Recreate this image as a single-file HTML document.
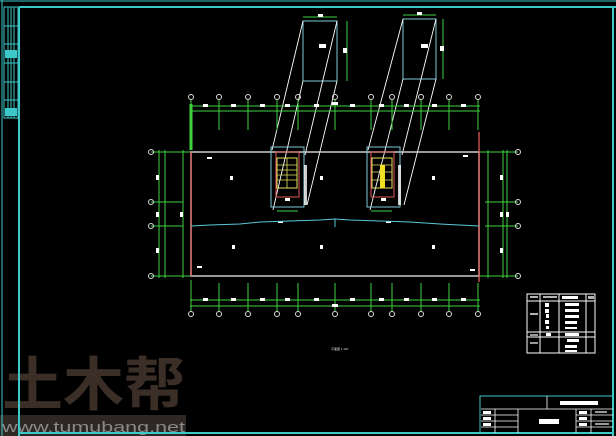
<!DOCTYPE html>
<html><head><style>
html,body{margin:0;padding:0;background:#000;width:616px;height:436px;overflow:hidden}
svg{display:block}
text{font-family:"Liberation Sans","Noto Sans CJK SC",sans-serif}
</style></head><body>
<svg width="616" height="436" viewBox="0 0 616 436" xmlns="http://www.w3.org/2000/svg">
<rect width="616" height="436" fill="#000"/>
<!-- watermark (behind frame) -->
<text x="2" y="405" font-size="58" font-weight="bold" fill="#3a2e26" font-family="'Noto Sans CJK SC',sans-serif" textLength="183" lengthAdjust="spacingAndGlyphs">土木帮</text>
<rect x="0" y="415" width="186" height="21" fill="#2e2824"/>
<text x="2" y="432" font-size="15" fill="#8a8a8a" font-family="'DejaVu Sans Mono',monospace" textLength="183" lengthAdjust="spacingAndGlyphs">www.tumubang.net</text>
<!-- frame -->
<g stroke="#3cc8c8" fill="none">
<line x1="0" y1="1" x2="616" y2="1" stroke-width="1"/>
<line x1="19" y1="7" x2="616" y2="7" stroke-width="2"/>
<line x1="19" y1="7" x2="19" y2="436" stroke-width="2"/>
<line x1="613" y1="7" x2="613" y2="436" stroke-width="2"/>
<line x1="19" y1="433" x2="613" y2="433" stroke-width="2"/>
<line x1="2" y1="0" x2="2" y2="436" stroke-width="1"/>
<rect x="4" y="7" width="14" height="111" stroke-width="1"/>
<line x1="8" y1="7" x2="8" y2="118"/><line x1="11" y1="7" x2="11" y2="118"/><line x1="14" y1="7" x2="14" y2="118"/>
<line x1="4" y1="26" x2="18" y2="26"/><line x1="4" y1="44" x2="18" y2="44"/><line x1="4" y1="63" x2="18" y2="63"/><line x1="4" y1="82" x2="18" y2="82"/><line x1="4" y1="100" x2="18" y2="100"/>
</g>
<rect x="5" y="50" width="12" height="8" fill="#3cc8c8"/>
<rect x="5" y="108" width="12" height="8" fill="#3cc8c8"/>

<!-- towers -->
<g stroke="#7fc8d8" fill="none" stroke-width="1">
<rect x="303" y="21" width="34" height="60"/>
<rect x="403" y="19" width="33" height="60"/>
</g>
<g stroke="#3fd23f" fill="none" stroke-width="1">
<line x1="303" y1="17" x2="337" y2="17"/><line x1="347" y1="21" x2="347" y2="81"/>
<line x1="403" y1="15" x2="436" y2="15"/><line x1="443" y1="19" x2="443" y2="79"/>
</g>
<rect x="318" y="14" width="5" height="3" fill="#fff"/><rect x="417" y="12" width="5" height="3" fill="#fff"/>
<rect x="343" y="48" width="4" height="5" fill="#fff"/><rect x="440" y="46" width="4" height="5" fill="#fff"/>
<rect x="319" y="44" width="7" height="4" fill="#fff"/><rect x="421" y="44" width="7" height="4" fill="#fff"/>
<g stroke="#fff" stroke-width="0.9">
<line x1="303" y1="21" x2="272" y2="150"/><line x1="303" y1="81" x2="273" y2="210"/>
<line x1="337" y1="21" x2="305" y2="155"/><line x1="337" y1="81" x2="307" y2="205"/>
<line x1="403" y1="19" x2="368" y2="150"/><line x1="403" y1="79" x2="370" y2="210"/>
<line x1="436" y1="19" x2="402" y2="155"/><line x1="436" y1="79" x2="404" y2="205"/>
</g>

<!-- dimension lines -->
<g stroke="#3fd23f" stroke-width="1" fill="none">
<line x1="190" y1="106" x2="480" y2="106"/><line x1="190" y1="111" x2="480" y2="111"/>
<line x1="190" y1="300" x2="480" y2="300"/><line x1="190" y1="306" x2="480" y2="306"/>
<line x1="191" y1="100" x2="191" y2="150"/><line x1="219" y1="100" x2="219" y2="130"/><line x1="248" y1="100" x2="248" y2="130"/><line x1="277" y1="100" x2="277" y2="130"/><line x1="298" y1="100" x2="298" y2="130"/><line x1="335" y1="100" x2="335" y2="130"/><line x1="371" y1="100" x2="371" y2="130"/><line x1="392" y1="100" x2="392" y2="130"/><line x1="421" y1="100" x2="421" y2="130"/><line x1="449" y1="100" x2="449" y2="130"/><line x1="478" y1="100" x2="478" y2="130"/>
<line x1="191" y1="280" x2="191" y2="311"/><line x1="219" y1="283" x2="219" y2="311"/><line x1="248" y1="283" x2="248" y2="311"/><line x1="277" y1="283" x2="277" y2="311"/><line x1="298" y1="283" x2="298" y2="311"/><line x1="335" y1="283" x2="335" y2="311"/><line x1="371" y1="283" x2="371" y2="311"/><line x1="392" y1="283" x2="392" y2="311"/><line x1="421" y1="283" x2="421" y2="311"/><line x1="449" y1="283" x2="449" y2="311"/><line x1="478" y1="283" x2="478" y2="311"/>
<line x1="151" y1="152" x2="191" y2="152"/><line x1="151" y1="276" x2="191" y2="276"/><line x1="151" y1="202" x2="183" y2="202"/><line x1="151" y1="226" x2="183" y2="226"/>
<line x1="159" y1="150" x2="159" y2="278"/><line x1="165" y1="150" x2="165" y2="278"/><line x1="183" y1="150" x2="183" y2="278"/>
<line x1="479" y1="152" x2="518" y2="152"/><line x1="479" y1="276" x2="518" y2="276"/><line x1="485" y1="202" x2="518" y2="202"/><line x1="485" y1="226" x2="518" y2="226"/>
<line x1="503" y1="150" x2="503" y2="278"/><line x1="507" y1="150" x2="507" y2="278"/><line x1="488" y1="150" x2="488" y2="278"/>
</g>
<line x1="191" y1="104" x2="191" y2="150" stroke="#3fd23f" stroke-width="3"/>
<g fill="none" stroke="#ddd" stroke-width="1">
<circle cx="191" cy="97" r="2.5"/><circle cx="219" cy="97" r="2.5"/><circle cx="248" cy="97" r="2.5"/><circle cx="277" cy="97" r="2.5"/><circle cx="298" cy="97" r="2.5"/><circle cx="335" cy="97" r="2.5"/><circle cx="371" cy="97" r="2.5"/><circle cx="392" cy="97" r="2.5"/><circle cx="421" cy="97" r="2.5"/><circle cx="449" cy="97" r="2.5"/><circle cx="478" cy="97" r="2.5"/>
<circle cx="191" cy="314" r="2.5"/><circle cx="219" cy="314" r="2.5"/><circle cx="248" cy="314" r="2.5"/><circle cx="277" cy="314" r="2.5"/><circle cx="298" cy="314" r="2.5"/><circle cx="335" cy="314" r="2.5"/><circle cx="371" cy="314" r="2.5"/><circle cx="392" cy="314" r="2.5"/><circle cx="421" cy="314" r="2.5"/><circle cx="449" cy="314" r="2.5"/><circle cx="478" cy="314" r="2.5"/>
<circle cx="151" cy="152" r="2.5"/><circle cx="151" cy="202" r="2.5"/><circle cx="151" cy="226" r="2.5"/><circle cx="151" cy="276" r="2.5"/>
<circle cx="518" cy="152" r="2.5"/><circle cx="518" cy="202" r="2.5"/><circle cx="518" cy="226" r="2.5"/><circle cx="518" cy="276" r="2.5"/>
</g>
<g fill="#fff">
<rect x="203" y="104" width="5" height="3"/><rect x="231" y="104" width="5" height="3"/><rect x="260" y="104" width="5" height="3"/><rect x="285" y="104" width="5" height="3"/><rect x="314" y="104" width="5" height="3"/><rect x="350" y="104" width="5" height="3"/><rect x="379" y="104" width="5" height="3"/><rect x="404" y="104" width="5" height="3"/><rect x="432" y="104" width="5" height="3"/><rect x="461" y="104" width="5" height="3"/>
<rect x="203" y="298" width="5" height="3"/><rect x="231" y="298" width="5" height="3"/><rect x="260" y="298" width="5" height="3"/><rect x="285" y="298" width="5" height="3"/><rect x="314" y="298" width="5" height="3"/><rect x="350" y="298" width="5" height="3"/><rect x="379" y="298" width="5" height="3"/><rect x="404" y="298" width="5" height="3"/><rect x="432" y="298" width="5" height="3"/><rect x="461" y="298" width="5" height="3"/>
<rect x="332" y="304" width="6" height="3"/><rect x="332" y="102" width="6" height="3"/>
<rect x="156" y="175" width="3" height="5"/><rect x="156" y="212" width="3" height="5"/><rect x="156" y="248" width="3" height="5"/><rect x="180" y="212" width="3" height="5"/>
<rect x="500" y="175" width="3" height="5"/><rect x="500" y="212" width="3" height="5"/><rect x="500" y="248" width="3" height="5"/><rect x="506" y="212" width="3" height="5"/>
<rect x="230" y="176" width="3" height="4"/><rect x="320" y="176" width="3" height="4"/><rect x="432" y="176" width="3" height="4"/>
<rect x="232" y="245" width="3" height="4"/><rect x="320" y="245" width="3" height="4"/><rect x="432" y="245" width="3" height="4"/>
<rect x="207" y="157" width="5" height="2"/><rect x="463" y="155" width="5" height="2"/><rect x="197" y="266" width="5" height="2"/><rect x="470" y="269" width="5" height="2"/>
<rect x="278" y="221" width="5" height="2"/><rect x="386" y="221" width="5" height="2"/>
</g>
<rect x="191" y="152" width="288" height="124" fill="none" stroke="#ccc" stroke-width="1.5"/>
<line x1="191" y1="152" x2="191" y2="276" stroke="#e05a5a" stroke-width="1.3"/>
<line x1="479" y1="132" x2="479" y2="282" stroke="#e05a5a" stroke-width="1.3"/>
<polyline points="191,226 210,225 240,224 260,222 290,221 320,220 335,219 350,220 380,221 410,222 440,224 479,226" fill="none" stroke="#5ac8d8" stroke-width="1"/>
<line x1="335" y1="219" x2="335" y2="227" stroke="#5ac8d8"/>
<g>
<rect x="271" y="147" width="33" height="60" fill="none" stroke="#7fc8d8"/>
<rect x="276" y="152" width="23" height="45" fill="none" stroke="#e05a5a"/>
<rect x="277" y="158" width="20" height="30" fill="none" stroke="#e8e060"/>
<g stroke="#e8e060" stroke-width="0.8"><line x1="277" y1="165" x2="297" y2="165"/><line x1="277" y1="170" x2="297" y2="170"/><line x1="277" y1="175" x2="297" y2="175"/><line x1="277" y1="180" x2="297" y2="180"/><line x1="287" y1="158" x2="287" y2="188"/></g>
<rect x="304" y="165" width="3" height="40" fill="#fff" opacity=".8"/>
<rect x="367" y="147" width="33" height="60" fill="none" stroke="#7fc8d8"/>
<rect x="371" y="152" width="23" height="45" fill="none" stroke="#e05a5a"/>
<rect x="372" y="158" width="20" height="30" fill="none" stroke="#e8e060"/>
<rect x="380" y="165" width="5" height="23" fill="#f0e020"/>
<g stroke="#e8e060" stroke-width="0.8"><line x1="372" y1="165" x2="392" y2="165"/><line x1="372" y1="172" x2="392" y2="172"/><line x1="372" y1="180" x2="392" y2="180"/></g>
<rect x="398" y="165" width="3" height="40" fill="#fff" opacity=".8"/>
<g stroke="#3fd23f"><line x1="277" y1="211" x2="298" y2="211"/><line x1="371" y1="211" x2="392" y2="211"/></g>
<rect x="285" y="198" width="5" height="3" fill="#fff"/><rect x="381" y="198" width="5" height="3" fill="#fff"/>
</g>
<text x="331" y="350" font-size="3" fill="#ddd">平面图 1:100</text>
<g stroke="#fff" fill="none" stroke-width="1">
<rect x="527" y="294" width="68" height="59"/>
<line x1="540" y1="294" x2="540" y2="353"/><line x1="559" y1="294" x2="559" y2="353"/><line x1="586" y1="294" x2="586" y2="353"/>
<line x1="527" y1="301" x2="595" y2="301"/><line x1="527" y1="332" x2="595" y2="332"/><line x1="527" y1="337" x2="595" y2="337"/>
</g>
<g fill="#fff"><rect x="545" y="303" width="4" height="4"/><rect x="545" y="309" width="4" height="4"/><rect x="546" y="314" width="3" height="4"/><rect x="545" y="320" width="4" height="4"/><rect x="546" y="326" width="3" height="3"/><rect x="546" y="333" width="5" height="3"/>
<rect x="565" y="303" width="14" height="3"/><rect x="565" y="309" width="14" height="3"/><rect x="565" y="315" width="14" height="3"/><rect x="565" y="321" width="12" height="3"/><rect x="565" y="327" width="12" height="2"/><rect x="565" y="333" width="14" height="3"/><rect x="567" y="339" width="12" height="3"/><rect x="565" y="345" width="12" height="3"/><rect x="565" y="350" width="12" height="2"/>
<rect x="530" y="296" width="8" height="2" opacity=".7"/><rect x="543" y="296" width="14" height="2" opacity=".7"/><rect x="562" y="296" width="16" height="3"/><rect x="588" y="296" width="6" height="3" opacity=".7"/>
<rect x="530" y="313" width="8" height="2" opacity=".7"/><rect x="530" y="334" width="8" height="2" opacity=".6"/><rect x="530" y="342" width="8" height="2" opacity=".6"/></g>
<rect x="480" y="396" width="133" height="37" fill="none" stroke="#3cc8c8" stroke-width="1"/>
<g stroke="#fff" fill="none" stroke-width="0.8">
<line x1="481" y1="409" x2="613" y2="409"/><line x1="547" y1="396" x2="547" y2="409"/>
<line x1="495" y1="409" x2="495" y2="433"/><line x1="518" y1="409" x2="518" y2="433"/><line x1="576" y1="409" x2="576" y2="433"/><line x1="591" y1="409" x2="591" y2="433"/>
<line x1="481" y1="415" x2="518" y2="415"/><line x1="481" y1="421" x2="518" y2="421"/><line x1="481" y1="427" x2="518" y2="427"/>
<line x1="576" y1="415" x2="613" y2="415"/><line x1="576" y1="421" x2="613" y2="421"/><line x1="576" y1="427" x2="613" y2="427"/>
</g>
<g fill="#fff"><rect x="560" y="401" width="38" height="4"/><rect x="539" y="419" width="20" height="5"/>
<rect x="483" y="411" width="8" height="3"/><rect x="483" y="417" width="8" height="3"/><rect x="483" y="423" width="8" height="3"/><rect x="579" y="411" width="8" height="3"/><rect x="579" y="417" width="8" height="3"/><rect x="579" y="423" width="8" height="3"/><rect x="595" y="411" width="12" height="2" opacity=".6"/><rect x="595" y="423" width="14" height="2" opacity=".6"/></g>
</svg>
</body></html>
